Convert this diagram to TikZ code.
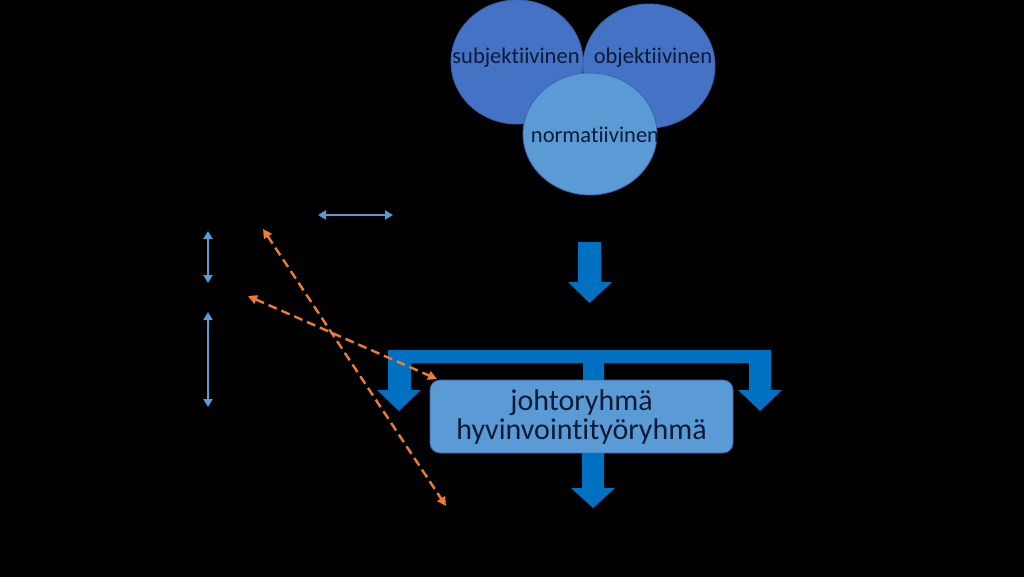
\documentclass[tikz,border=0pt]{standalone}
\usepackage{fontspec}
\setmainfont{Carlito}[Ligatures=NoCommon]
\usetikzlibrary{arrows.meta,shapes.geometric}
\definecolor{darkbubble}{HTML}{4472C4}
\definecolor{lightbubble}{HTML}{5B9BD5}
\definecolor{bubbleline}{HTML}{3A64AE}
\definecolor{blockblue}{HTML}{0070C0}
\definecolor{thinblue}{HTML}{5B9BD5}
\definecolor{dashorange}{HTML}{ED7D31}
\definecolor{inktext}{HTML}{0E1A36}

\begin{document}
\begin{tikzpicture}[x=1pt,y=-1pt,
  bubble/.style={ellipse,draw=bubbleline,line width=0.8pt,inner sep=0pt,minimum width=132pt,minimum height=124pt},
  bubbletext/.style={text=inktext,font=\fontsize{22.5}{24}\selectfont,inner sep=0pt},
  block/.style={fill=blockblue},
  groupbox/.style={rectangle,rounded corners=10pt,fill=lightbubble,draw=bubbleline,line width=0.8pt,minimum width=303pt,minimum height=73pt,text=inktext,align=center,font=\fontsize{30}{29}\selectfont},
  twoway/.style={thinblue,line width=2.4pt,{Triangle[length=8pt,width=9pt]}-{Triangle[length=8pt,width=9pt]}},
  crossway/.style={dashorange,line width=2.4pt,dash pattern=on 9pt off 5pt,{Triangle[length=9pt,width=9pt]}-{Triangle[length=9pt,width=9pt]}}]
\fill[black] (0,0) rectangle (1024,577);
\useasboundingbox (0,0) rectangle (1024,577);
\node[bubble,fill=darkbubble] (subj) at (517,62) {};
\node[bubbletext] (subjtxt) at (516,58) {subjektiivinen};
\node[bubble,fill=darkbubble] (obj) at (649,66) {};
\node[bubbletext] (objtxt) at (653,58) {objektiivinen};
\node[bubble,fill=lightbubble,minimum width=134pt,minimum height=122pt] (norm) at (590,134) {};
\begin{scope}
\clip (norm.center) ellipse [x radius=67pt,y radius=61pt];
\node[bubbletext] (normtxt) at (595,135) {normatiivinen};
\end{scope}
\fill[block] (578,242) -- (601,242) -- (601,282) -- (612,282) -- (589.5,303) -- (568,282) -- (578,282) -- cycle;
\fill[block] (388,350) -- (771,350) -- (771,390) -- (782,390) -- (760,411) -- (738,390) -- (749,390) -- (749,363) -- (604,363) -- (604,390) -- (583,390) -- (583,363) -- (411,363) -- (411,390) -- (421,390) -- (399,411) -- (377,390) -- (388,390) -- cycle;
\fill[block] (582,440) -- (604,440) -- (604,488) -- (615,488) -- (593,508) -- (571,488) -- (582,488) -- cycle;
\node[groupbox] (group) at (581.5,416.5) {johtoryhmä\\hyvinvointityöryhmä};
\coordinate (h1) at (318,215);
\coordinate (h2) at (393,215);
\coordinate (v1) at (208,231);
\coordinate (v2) at (208,283);
\coordinate (v3) at (208,312);
\coordinate (v4) at (208,407);
\coordinate (d1) at (263,229);
\coordinate (d2) at (446,506);
\coordinate (d3) at (248,296);
\coordinate (d4) at (437,379);
\draw[twoway] (h1) -- (h2);
\draw[twoway] (v1) -- (v2);
\draw[twoway] (v3) -- (v4);
\draw[crossway] (d1) -- (d2);
\draw[crossway] (d3) -- (d4);
\end{tikzpicture}
\end{document}
